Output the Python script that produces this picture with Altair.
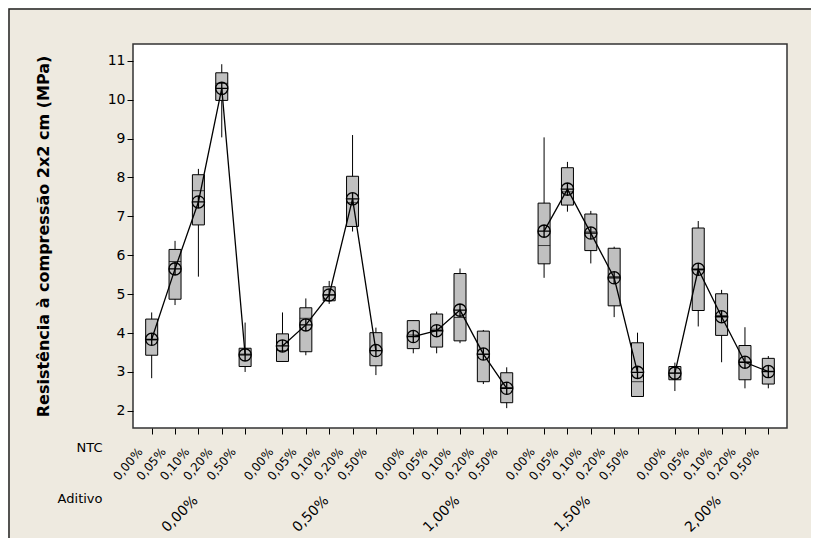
import json
import altair as alt
import pandas as pd

# ---------------- data ----------------
aditivo = ["0,00%", "0,50%", "1,00%", "1,50%", "2,00%"]
ntc = ["0,00%", "0,05%", "0,10%", "0,20%", "0,50%"]

# one value per box, ordered Aditivo-major, NTC-minor
whisker_low = [2.84, 4.72, 5.45, 9.03, 3.00,
               3.27, 3.43, 4.75, 6.61, 2.92,
               3.48, 3.48, 3.74, 2.69, 2.07,
               5.42, 7.12, 5.79, 4.41, 2.37,
               2.51, 4.17, 3.25, 2.58, 2.58]
q1 = [3.43, 4.87, 6.78, 9.98, 3.14,
      3.27, 3.52, 4.83, 6.74, 3.16,
      3.60, 3.64, 3.80, 2.75, 2.21,
      5.78, 7.29, 6.12, 4.70, 2.37,
      2.80, 4.58, 3.94, 2.80, 2.69]
median = [3.82, 5.84, 7.66, 10.42, 3.46,
          3.55, 4.38, 4.98, 7.35, 3.55,
          3.95, 4.10, 4.40, 3.45, 2.60,
          6.25, 7.63, 6.60, 5.45, 2.75,
          2.97, 5.62, 4.45, 3.25, 3.02]
q3 = [4.36, 6.15, 8.07, 10.69, 3.61,
      3.98, 4.65, 5.19, 8.03, 4.01,
      4.32, 4.49, 5.53, 4.05, 2.98,
      7.34, 8.25, 7.06, 6.18, 3.75,
      3.14, 6.70, 5.01, 3.68, 3.35]
whisker_high = [4.53, 6.37, 8.22, 10.91, 4.27,
                4.53, 4.89, 5.34, 9.09, 4.14,
                4.32, 4.55, 5.66, 4.08, 3.12,
                9.03, 8.40, 7.14, 6.22, 4.01,
                3.24, 6.88, 5.11, 4.15, 3.41]
mean = [3.84, 5.65, 7.37, 10.29, 3.44,
        3.67, 4.21, 4.98, 7.45, 3.55,
        3.91, 4.06, 4.59, 3.46, 2.58,
        6.62, 7.70, 6.57, 5.42, 2.99,
        2.97, 5.64, 4.42, 3.25, 3.01]

GROUP_STEP = 5.6  # categorical slot spacing incl. gap between Aditivo groups

rows = []
for gi, a in enumerate(aditivo):
    for ni, n in enumerate(ntc):
        k = gi * len(ntc) + ni
        rows.append(dict(Aditivo=a, NTC=n, pos=gi * GROUP_STEP + ni,
                         lo=whisker_low[k], q1=q1[k], med=median[k],
                         q3=q3[k], hi=whisker_high[k], mean=mean[k]))
df = pd.DataFrame(rows)
centers = pd.DataFrame({"Aditivo": aditivo,
                        "pos": [gi * GROUP_STEP + 2 for gi in range(len(aditivo))]})

W, H = 654, 384
FONT = "DejaVu Sans"

xscale = alt.Scale(domain=[-0.8, 4 * GROUP_STEP + 4.8], nice=False, zero=False,
                   padding=0)
yscale = alt.Scale(domain=[1.56, 11.43], nice=False, zero=False)

ntc_expr = (f"{json.dumps(ntc)}[round(datum.value - {GROUP_STEP}*"
            f"floor((datum.value + 0.3)/{GROUP_STEP}))]")
adit_expr = f"{json.dumps(aditivo)}[round((datum.value - 2)/{GROUP_STEP})]"

yaxis = alt.Axis(values=list(range(2, 12)), tickSize=6, labelFontSize=14,
                 labelPadding=2, domain=False, grid=False,
                 title="Resistência à compressão 2x2 cm (MPa)",
                 titleFontSize=16, titleFontWeight="bold",
                 titleX=-90, titleY=H / 2, titleAngle=270,
                 titleAlign="center", titleBaseline="middle")

xaxis_ntc = alt.Axis(values=list(df["pos"]), labelExpr=ntc_expr, orient="bottom",
                     labelAngle=-50, labelAlign="right", labelBaseline="middle",
                     labelFontSize=12, labelPadding=15, labelOffset=-12,
                     labelOverlap=False, labelFlush=False,
                     tickSize=6, domain=False, grid=False,
                     title="NTC", titleX=-31, titleY=19, titleAlign="right",
                     titleBaseline="middle", titleFontWeight="normal",
                     titleFontSize=13)

xaxis_adit = alt.Axis(values=list(centers["pos"]), labelExpr=adit_expr,
                      orient="bottom", offset=60,
                      labelAngle=-45, labelAlign="right", labelBaseline="middle",
                      labelFontSize=14, labelPadding=10, labelOffset=-3,
                      labelOverlap=False, labelFlush=False,
                      ticks=False, domain=False, grid=False,
                      title="Aditivo", titleX=-31, titleY=10, titleAlign="right",
                      titleBaseline="middle", titleFontWeight="normal",
                      titleFontSize=13)

base = alt.Chart(df)

whiskers = base.mark_rule(color="black", strokeWidth=1).encode(
    x=alt.X("pos:Q", scale=xscale, axis=xaxis_ntc),
    y=alt.Y("lo:Q", scale=yscale, axis=yaxis),
    y2="hi:Q",
)
boxes = base.mark_bar(size=12, fill="#C0C0C0", stroke="black",
                      strokeWidth=1).encode(
    x=alt.X("pos:Q", scale=xscale, axis=None),
    y=alt.Y("q1:Q", scale=yscale, axis=yaxis),
    y2="q3:Q",
)
medians = base.mark_tick(orient="horizontal", size=12, thickness=1,
                         color="black").encode(
    x=alt.X("pos:Q", scale=xscale, axis=None),
    y=alt.Y("med:Q", scale=yscale, axis=yaxis),
)
mean_line = base.mark_line(color="black", strokeWidth=1.3).encode(
    x=alt.X("pos:Q", scale=xscale, axis=None),
    y=alt.Y("mean:Q", scale=yscale, axis=yaxis),
    detail="Aditivo:N",
)
CIRCLE_PLUS = "M-1,0A1,1,0,1,1,1,0A1,1,0,1,1,-1,0ZM-1,0L1,0M0,-1L0,1"
mean_pts = base.mark_point(shape=CIRCLE_PLUS, size=150, filled=False,
                           stroke="black", strokeWidth=1.3,
                           opacity=1).encode(
    x=alt.X("pos:Q", scale=xscale, axis=None),
    y=alt.Y("mean:Q", scale=yscale, axis=yaxis),
)
group_axis = alt.Chart(centers).mark_point(opacity=0).encode(
    x=alt.X("pos:Q", scale=xscale, axis=xaxis_adit),
    y=alt.value(0),
)
# outer figure frame: only its left and top edges fall inside the page
frame = alt.Chart(centers.head(1)).mark_rect(
    fill="transparent", stroke="#222", strokeWidth=1.5).encode(
    x=alt.value(-124), x2=alt.value(W + 80),
    y=alt.value(-35), y2=alt.value(H + 160))

chart = alt.layer(
    frame, whiskers, boxes, medians, mean_line, mean_pts, group_axis
).resolve_axis(x="independent").properties(
    width=W, height=H,
    autosize=alt.AutoSizeParams(type="none"),
    padding={"left": 125, "top": 36, "right": 24, "bottom": 110},
).configure(
    background="#EEEAE0",
    font=FONT,
).configure_view(
    fill="white", stroke="#333333", strokeWidth=1.5,
).configure_axis(
    labelColor="black", tickColor="black", titleColor="black",
    labelFont=FONT, titleFont=FONT,
)

chart.save("out.html", embed_options={"renderer": "svg", "actions": False})
